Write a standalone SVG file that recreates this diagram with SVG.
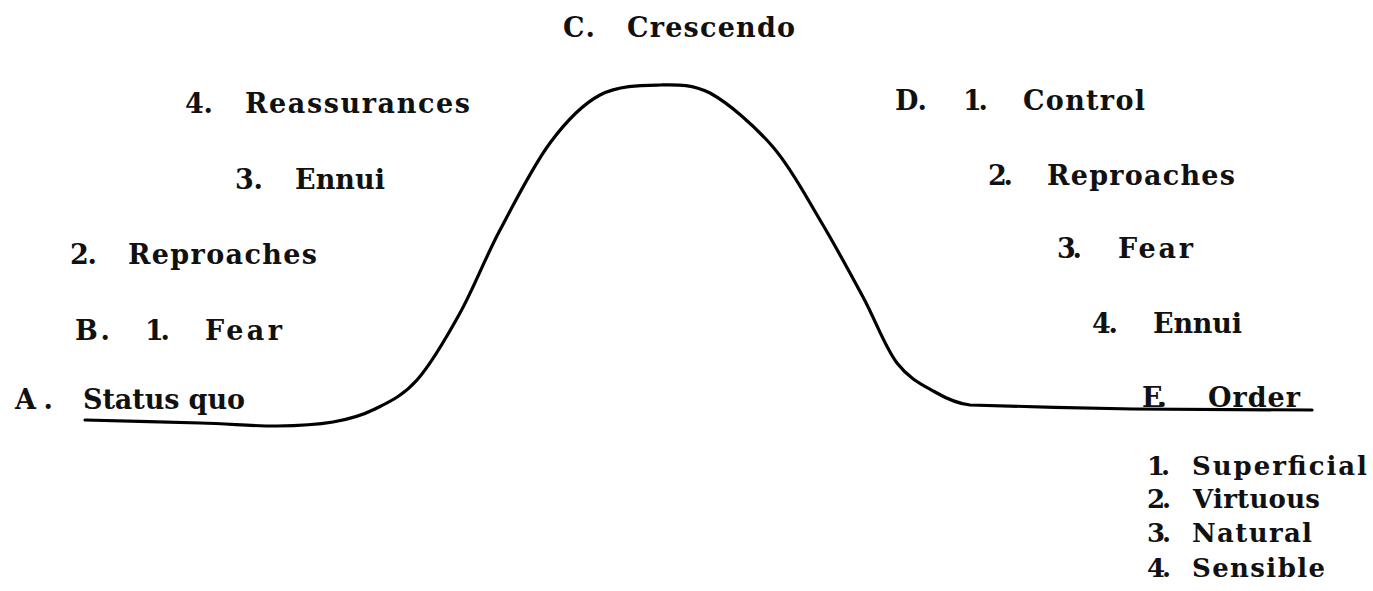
<svg xmlns="http://www.w3.org/2000/svg" width="1373" height="591" viewBox="0 0 1373 591">
<style>
text{font-family:"DejaVu Serif","Liberation Serif",serif;font-size:27px;font-weight:bold;fill:#111}
.s{font-size:26px}
.curve{fill:none;stroke:#000;stroke-width:3.2;stroke-linejoin:round;stroke-linecap:round}
</style>
<rect width="1373" height="591" fill="#fff"/>
<g id="connectors">
<path class="curve" d="M85,420 C104.2,420.5 168,422 200,423 C232,424 254.8,426.2 277,426 C299.2,425.8 316.7,424.8 333,422 C349.3,419.2 361,416 375,409 C389,402 402.8,396 417,380 C431.2,364 446.2,338 460,313 C473.8,288 485,258.3 500,230 C515,201.7 533.3,165.5 550,143 C566.7,120.5 581.7,104.7 600,95 C618.3,85.3 641.7,85.3 660,85 C678.3,84.7 691.2,84 710,93 C728.8,103.3 754.7,125.8 773,147 C791.3,168.2 805,195 820,220 C835,245 850.2,273.2 863,297 C875.8,320.8 885,347.2 897,363 C909,378.8 922.8,385 935,392 C947.2,399 960,404 970,405 C990,405.5 1100,408.7 1133,409 L1312,410"/>
</g>
<g id="nodeC"><text x="563" y="37" textLength="32" lengthAdjust="spacing">C.</text><text x="627" y="37" textLength="168" lengthAdjust="spacing">Crescendo</text></g>
<g id="nodeB4"><text x="185" y="113" textLength="28" lengthAdjust="spacing">4.</text><text x="245" y="113" textLength="225" lengthAdjust="spacing">Reassurances</text></g>
<g id="nodeB3"><text x="235" y="189" textLength="28" lengthAdjust="spacing">3.</text><text x="295" y="189" textLength="90" lengthAdjust="spacing">Ennui</text></g>
<g id="nodeB2"><text x="70" y="264" textLength="27" lengthAdjust="spacing">2.</text><text x="128" y="264" textLength="189" lengthAdjust="spacing">Reproaches</text></g>
<g id="nodeB1"><text x="75" y="340" textLength="35" lengthAdjust="spacing">B.</text><text x="145" y="340" textLength="25" lengthAdjust="spacing">1.</text><text x="205" y="340" textLength="77" lengthAdjust="spacing">Fear</text></g>
<g id="nodeA"><text x="15" y="409" textLength="38" lengthAdjust="spacing">A.</text><text x="83" y="409" textLength="162" lengthAdjust="spacing">Status quo</text></g>
<g id="nodeD1"><text x="895" y="110" textLength="32" lengthAdjust="spacing">D.</text><text x="963" y="110" textLength="25" lengthAdjust="spacing">1.</text><text x="1023" y="110" textLength="122" lengthAdjust="spacing">Control</text></g>
<g id="nodeD2"><text x="988" y="185" textLength="25" lengthAdjust="spacing">2.</text><text x="1047" y="185" textLength="188" lengthAdjust="spacing">Reproaches</text></g>
<g id="nodeD3"><text x="1057" y="258" textLength="25" lengthAdjust="spacing">3.</text><text x="1118" y="258" textLength="75" lengthAdjust="spacing">Fear</text></g>
<g id="nodeD4"><text x="1092" y="333" textLength="26" lengthAdjust="spacing">4.</text><text x="1153" y="333" textLength="89" lengthAdjust="spacing">Ennui</text></g>
<g id="nodeE"><text x="1142" y="407" textLength="25" lengthAdjust="spacing">E.</text><text x="1208" y="407" textLength="92" lengthAdjust="spacing">Order</text></g>
<g id="nodeElist">
<text class="s" x="1147" y="475" textLength="23" lengthAdjust="spacing">1.</text><text class="s" x="1192" y="475" textLength="175" lengthAdjust="spacing">Superficial</text>
<text class="s" x="1147" y="508" textLength="24" lengthAdjust="spacing">2.</text><text class="s" x="1193" y="508" textLength="127" lengthAdjust="spacing">Virtuous</text>
<text class="s" x="1147" y="542" textLength="24" lengthAdjust="spacing">3.</text><text class="s" x="1192" y="542" textLength="120" lengthAdjust="spacing">Natural</text>
<text class="s" x="1147" y="577" textLength="24" lengthAdjust="spacing">4.</text><text class="s" x="1192" y="577" textLength="133" lengthAdjust="spacing">Sensible</text>
</g>
</svg>
